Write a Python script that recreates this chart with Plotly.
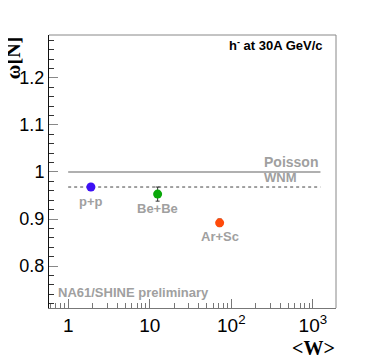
import math
import plotly.graph_objects as go

# data
systems = ["p+p", "Be+Be", "Ar+Sc"]
mean_w = [1.9, 12.5, 72.0]
omega = [0.968, 0.953, 0.892]
omega_err = [0.003, 0.015, 0.008]
colors = ["#3d10f5", "#0aa80a", "#ff4a0a"]

ref_x = [1.0, 1240.0]
poisson_y = 1.0
wnm_y = 0.968

x_tickvals = [1, 10, 100, 1000]
x_ticktext = ["1", "10", "10<sup>2</sup>", "10<sup>3</sup>"]
y_tickvals = [0.8, 0.9, 1.0, 1.1, 1.2]
y_ticktext = ["0.8", "0.9", "1", "1.1", "1.2"]

fig = go.Figure()

# reference lines
fig.add_trace(go.Scatter(x=ref_x, y=[poisson_y, poisson_y], mode="lines",
                         line=dict(color="#b0b0b0", width=2), hoverinfo="skip"))
fig.add_trace(go.Scatter(x=ref_x, y=[wnm_y, wnm_y], mode="lines",
                         line=dict(color="#444444", width=1, dash="dot"), hoverinfo="skip"))

lbl_font = dict(family="Liberation Sans", size=13, color="#a0a0a0", weight="bold")

# data points (annotation x on a log axis is given in log10 units)
for name, x, y, e, c in zip(systems, mean_w, omega, omega_err, colors):
    fig.add_trace(go.Scatter(
        x=[x], y=[y], mode="markers", name=name,
        marker=dict(color=c, size=9),
        error_y=dict(type="data", array=[e], color="#333333", thickness=1, width=2),
    ))
    fig.add_annotation(x=math.log10(x), y=y, xref="x", yref="y", text=name, showarrow=False,
                       xanchor="center", yanchor="middle", yshift=-14, font=lbl_font)

fig.add_annotation(x=math.log10(ref_x[1]), y=poisson_y, text="Poisson", showarrow=False,
                   xanchor="right", yanchor="bottom", yshift=0,
                   font=dict(family="Liberation Sans", size=14, color="#a0a0a0", weight="bold"))
fig.add_annotation(x=math.log10(237), y=wnm_y, xref="x", text="WNM", showarrow=False,
                   xanchor="left", yanchor="bottom", yshift=0, font=lbl_font)

fig.add_annotation(x=0.962, y=0.963, xref="paper", yref="paper",
                   text="h<sup>-</sup> at 30A GeV/c", showarrow=False,
                   xanchor="right", yanchor="middle",
                   font=dict(family="Liberation Sans", size=13, color="black", weight="bold"))
fig.add_annotation(x=0.024, y=0.056, xref="paper", yref="paper",
                   text="NA61/SHINE preliminary", showarrow=False,
                   xanchor="left", yanchor="middle", font=lbl_font)

# axis titles
fig.add_annotation(x=-0.125, y=1.0, xref="paper", yref="paper", text="ω[N]",
                   showarrow=False, textangle=-90, xanchor="center", yanchor="top",
                   font=dict(family="Liberation Serif", size=20, color="black", weight="bold"))
fig.add_annotation(x=1.003, y=-0.1465, xref="paper", yref="paper", text="&lt;W&gt;",
                   showarrow=False, xanchor="right", yanchor="middle",
                   font=dict(family="Liberation Serif", size=20, color="black", weight="bold"))

# frame top/right in grey
fig.add_shape(type="line", xref="paper", yref="paper", x0=0, x1=1, y0=1, y1=1,
              line=dict(color="#888888", width=1))
fig.add_shape(type="line", xref="paper", yref="paper", x0=1, x1=1, y0=0, y1=1,
              line=dict(color="#888888", width=1))

# page body has an 8px margin, so the figure is sized to fit inside it
fig.update_layout(
    width=366, height=349,
    margin=dict(l=41, r=38, t=27, b=49),
    plot_bgcolor="white", paper_bgcolor="white",
    showlegend=False,
    font=dict(family="Liberation Sans", color="black"),
)
fig.update_xaxes(
    type="log", range=[-0.235, 3.284], automargin=False,
    tickvals=x_tickvals, ticktext=x_ticktext,
    tickfont=dict(size=19),
    ticks="inside", ticklen=9, tickcolor="#777777",
    minor=dict(ticks="inside", ticklen=5, tickcolor="#777777", dtick="D1", showgrid=False),
    showline=True, linecolor="#777777", linewidth=1,
    showgrid=False, zeroline=False,
)
fig.update_yaxes(
    range=[0.711, 1.291], automargin=False,
    tickvals=y_tickvals, ticktext=y_ticktext,
    tickfont=dict(size=18),
    ticks="inside", ticklen=9, tickcolor="#888888",
    minor=dict(ticks="inside", ticklen=5, tickcolor="#333333", dtick=0.02, showgrid=False),
    showline=True, linecolor="#111111", linewidth=1,
    showgrid=False, zeroline=False,
)

fig.write_html("out.html")
